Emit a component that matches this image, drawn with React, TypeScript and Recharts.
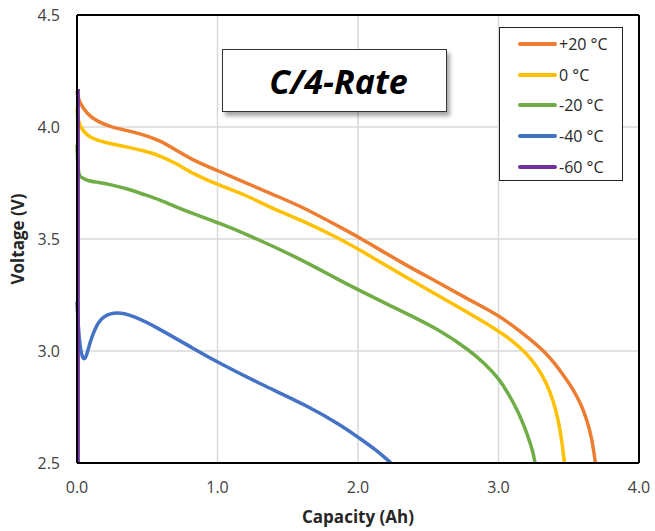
import React from 'react';
import {
  LineChart,
  Line,
  XAxis,
  YAxis,
  CartesianGrid,
  Legend,
  ReferenceLine,
} from 'recharts';

// capacity (Ah) / voltage (V)
const plus20 = [
  { x: 0, v: 4.16 }, { x: 0.008, v: 4.13 }, { x: 0.024, v: 4.104 }, { x: 0.07, v: 4.06 },
  { x: 0.14, v: 4.026 }, { x: 0.24, v: 4.0 }, { x: 0.36, v: 3.984 }, { x: 0.47, v: 3.966 },
  { x: 0.59, v: 3.94 }, { x: 0.71, v: 3.895 }, { x: 0.83, v: 3.85 }, { x: 1.0, v: 3.806 },
  { x: 1.19, v: 3.754 }, { x: 1.4, v: 3.697 }, { x: 1.61, v: 3.642 }, { x: 1.85, v: 3.56 },
  { x: 2.0, v: 3.511 }, { x: 2.32, v: 3.39 }, { x: 2.56, v: 3.31 }, { x: 2.8, v: 3.225 },
  { x: 3.0, v: 3.16 }, { x: 3.15, v: 3.09 }, { x: 3.25, v: 3.04 }, { x: 3.33, v: 2.995 },
  { x: 3.4, v: 2.945 }, { x: 3.47, v: 2.885 }, { x: 3.53, v: 2.83 }, { x: 3.59, v: 2.76 },
  { x: 3.63, v: 2.69 }, { x: 3.665, v: 2.61 }, { x: 3.69, v: 2.5 },
];

const zero = [
  { x: 0, v: 4.08 }, { x: 0.008, v: 4.03 }, { x: 0.024, v: 4.0 }, { x: 0.07, v: 3.962 },
  { x: 0.14, v: 3.94 }, { x: 0.24, v: 3.925 }, { x: 0.36, v: 3.91 }, { x: 0.47, v: 3.895 },
  { x: 0.59, v: 3.873 }, { x: 0.71, v: 3.836 }, { x: 0.83, v: 3.79 }, { x: 1.0, v: 3.743 },
  { x: 1.19, v: 3.7 }, { x: 1.37, v: 3.642 }, { x: 1.61, v: 3.58 }, { x: 1.85, v: 3.508 },
  { x: 2.0, v: 3.456 }, { x: 2.32, v: 3.337 }, { x: 2.8, v: 3.166 }, { x: 3.0, v: 3.09 },
  { x: 3.1, v: 3.045 }, { x: 3.2, v: 2.99 }, { x: 3.28, v: 2.925 }, { x: 3.34, v: 2.86 },
  { x: 3.39, v: 2.78 }, { x: 3.43, v: 2.68 }, { x: 3.45, v: 2.6 }, { x: 3.47, v: 2.5 },
];

const minus20 = [
  { x: 0, v: 3.92 }, { x: 0.005, v: 3.84 }, { x: 0.012, v: 3.79 }, { x: 0.024, v: 3.776 },
  { x: 0.07, v: 3.761 }, { x: 0.14, v: 3.754 }, { x: 0.24, v: 3.743 }, { x: 0.36, v: 3.724 },
  { x: 0.47, v: 3.7 }, { x: 0.59, v: 3.675 }, { x: 0.71, v: 3.642 }, { x: 0.83, v: 3.612 },
  { x: 1.0, v: 3.575 }, { x: 1.32, v: 3.49 }, { x: 1.61, v: 3.404 }, { x: 1.85, v: 3.322 },
  { x: 2.0, v: 3.273 }, { x: 2.32, v: 3.175 }, { x: 2.58, v: 3.095 }, { x: 2.8, v: 3.0 },
  { x: 2.9, v: 2.945 }, { x: 3.0, v: 2.88 }, { x: 3.08, v: 2.8 }, { x: 3.13, v: 2.74 },
  { x: 3.18, v: 2.67 }, { x: 3.22, v: 2.6 }, { x: 3.245, v: 2.55 }, { x: 3.26, v: 2.5 },
];

const minus40 = [
  { x: 0, v: 3.22 }, { x: 0.01, v: 3.1 }, { x: 0.02, v: 3.03 }, { x: 0.035, v: 2.975 },
  { x: 0.052, v: 2.96 }, { x: 0.07, v: 2.982 }, { x: 0.095, v: 3.047 }, { x: 0.142, v: 3.12 },
  { x: 0.19, v: 3.158 }, { x: 0.285, v: 3.175 }, { x: 0.4, v: 3.158 }, { x: 0.59, v: 3.098 },
  { x: 0.83, v: 3.01 }, { x: 1.0, v: 2.95 }, { x: 1.3, v: 2.854 }, { x: 1.66, v: 2.75 },
  { x: 1.9, v: 2.66 }, { x: 2.0, v: 2.615 }, { x: 2.135, v: 2.556 }, { x: 2.235, v: 2.5 },
];

const minus60 = [
  { x: 0.008, v: 4.17 }, { x: 0.008, v: 2.5 },
];

const xTicks = [0, 1, 2, 3, 4];
const yTicks = [2.5, 3.0, 3.5, 4.0, 4.5];

const series = [
  { name: '+20 °C', data: plus20, color: '#ED7D31' },
  { name: '0 °C', data: zero, color: '#FFC000' },
  { name: '-20 °C', data: minus20, color: '#70AD47' },
  { name: '-40 °C', data: minus40, color: '#4472C4' },
  { name: '-60 °C', data: minus60, color: '#7030A0' },
];

const font = '"Open Sans", "Noto Sans", sans-serif';

const LegendBox = () => (
  <div
    style={{
      position: 'absolute',
      left: 499,
      top: 27,
      width: 124,
      height: 154,
      border: '1.5px solid #222',
      background: '#fff',
      fontFamily: font,
      fontSize: 16,
      color: '#262626',
      boxSizing: 'border-box',
      paddingTop: 1,
    }}
  >
    {series.map((s) => (
      <div key={s.name} style={{ display: 'flex', alignItems: 'center', height: 30.6 }}>
        <div style={{ width: 39, height: 4, borderRadius: 2, background: s.color, marginLeft: 18, marginRight: 2 }} />
        <span>{s.name}</span>
      </div>
    ))}
  </div>
);

export default function App() {
  return (
    <div style={{ position: 'absolute', left: 0, top: 0, width: 655, height: 531, background: '#fff' }}>
      <LineChart
        width={655}
        height={531}
        margin={{ top: 15, right: 16, left: 17, bottom: 8 }}
      >
        <CartesianGrid stroke="#d9d9d9" strokeWidth={1.5} />
        <XAxis
          type="number"
          dataKey="x"
          domain={[0, 4]}
          ticks={xTicks}
          tickFormatter={(v: number) => v.toFixed(1)}
          stroke="#000"
          strokeWidth={2}
          tickLine={false}
          tick={{ fill: '#404040', fontSize: 16, fontFamily: font }}
          tickMargin={13}
          height={60}
          label={{
            value: 'Capacity (Ah)',
            position: 'insideBottom',
            offset: 0,
            fill: '#262626',
            fontSize: 17,
            fontWeight: 'bold',
            fontFamily: font,
          }}
        />
        <YAxis
          type="number"
          dataKey="v"
          domain={[2.5, 4.5]}
          ticks={yTicks}
          tickFormatter={(v: number) => v.toFixed(1)}
          stroke="#000"
          strokeWidth={2}
          tickLine={false}
          tick={{ fill: '#404040', fontSize: 16, fontFamily: font }}
          tickMargin={11}
          width={60}
          label={{
            value: 'Voltage (V)',
            angle: -90,
            position: 'insideLeft',
            offset: 1,
            fill: '#262626',
            fontSize: 17,
            fontWeight: 'bold',
            fontFamily: font,
            style: { textAnchor: 'middle' },
          }}
        />
        <ReferenceLine y={4.5} stroke="#000" strokeWidth={2} />
        <ReferenceLine x={4} stroke="#000" strokeWidth={2} />
        {series.map((s) => (
          <Line
            key={s.name}
            data={s.data}
            dataKey="v"
            name={s.name}
            type={s.data.length > 2 ? 'basis' : 'linear'}
            stroke={s.color}
            strokeWidth={3.5}
            dot={false}
            isAnimationActive={false}
          />
        ))}
        <Legend content={() => null} />
      </LineChart>
      <LegendBox />
      <div
        style={{
          position: 'absolute',
          left: 222,
          top: 49,
          width: 225,
          height: 63,
          border: '1.5px solid #333',
          background: '#fff',
          boxShadow: '3px 4px 4px rgba(0,0,0,0.35)',
          boxSizing: 'border-box',
          display: 'flex',
          alignItems: 'center',
          justifyContent: 'center',
          paddingLeft: 8,
          fontFamily: font,
          fontSize: 34,
          fontWeight: 'bold',
          fontStyle: 'italic',
          color: '#000',
        }}
      >
        C/4-Rate
      </div>
    </div>
  );
}
